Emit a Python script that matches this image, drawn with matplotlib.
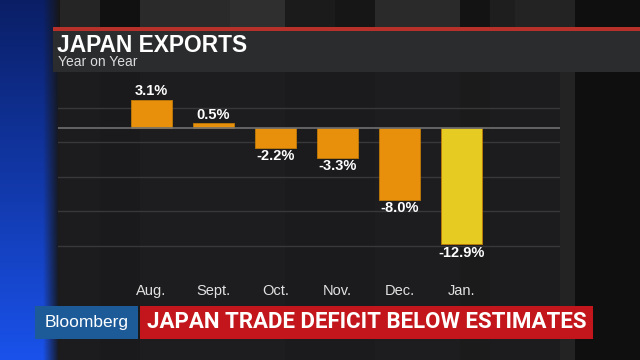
import numpy as np
import matplotlib
matplotlib.use("Agg")
import matplotlib.pyplot as plt
from matplotlib.patches import Rectangle

# data
months = ["Aug.", "Sept.", "Oct.", "Nov.", "Dec.", "Jan."]
exports_yoy = [3.1, 0.5, -2.2, -3.3, -8.0, -12.9]
value_labels = ["3.1%", "0.5%", "-2.2%", "-3.3%", "-8.0%", "-12.9%"]
title = "JAPAN EXPORTS"
subtitle = "Year on Year"
headline = "JAPAN TRADE DEFICIT BELOW ESTIMATES"

plt.rcParams['font.family'] = ['Liberation Sans', 'DejaVu Sans']

W, H = 640, 360
fig = plt.figure(figsize=(6.4, 3.6), dpi=100)
fig.patch.set_facecolor("#151515")

# background layer in pixel coords
bg = fig.add_axes([0, 0, 1, 1])
bg.set_xlim(0, W)
bg.set_ylim(H, 0)
bg.axis("off")

# studio stripes
stripes = [(53, 100, "#252525"), (100, 140, "#111111"), (140, 230, "#2a2a2a"),
           (230, 285, "#2f2f2f"), (285, 335, "#1b1b1b"), (335, 375, "#161616"),
           (375, 460, "#2a2a2a"), (460, 490, "#131313"), (490, 515, "#1e1e1e"),
           (515, 575, "#232323"), (575, 640, "#0f0f0f")]
for x0, x1, c in stripes:
    bg.add_patch(Rectangle((x0, 0), x1 - x0, H, color=c, lw=0, zorder=0))

# blue wall on the left
yy = np.linspace(0, 1, 100)[:, None]
xx = np.linspace(0, 1, 60)[None, :]
top = np.array([0.04, 0.12, 0.40])
bot = np.array([0.10, 0.32, 0.92])
rgb = top + (bot - top) * yy[..., None]
fade = np.clip((xx - 0.72) / 0.28, 0, 1)[..., None]
rgb = rgb * (1 - fade) + np.array([0.09, 0.09, 0.09]) * fade
bg.imshow(rgb, extent=(0, 60, H, 0), aspect="auto", zorder=1)

# chart panel
bg.add_patch(Rectangle((58, 72), 502, H - 72, color="#1c1c1e", alpha=0.9, lw=0, zorder=2))

# header
bg.add_patch(Rectangle((53, 28), W - 53, 44, color="#2a2c2e", lw=0, zorder=3))
bg.add_patch(Rectangle((53, 27), W - 53, 3.5, color="#b8302a", lw=0, zorder=4))
bg.text(57, 45, title, color="white", fontsize=16.4, fontweight="bold",
        va="center", ha="left", zorder=5)
bg.text(57.5, 62.5, subtitle, color="#dcdcdc", fontsize=10,
        va="center", ha="left", zorder=5)

# bottom banner
bg.add_patch(Rectangle((35, 305.5), 103, 33.5, color="#1d5a98", lw=0, zorder=6))
bg.text(86.5, 322.5, "Bloomberg", color="white", fontsize=12.5,
        va="center", ha="center", zorder=7)
bg.add_patch(Rectangle((140, 305.5), 453, 33.5, color="#c2161c", lw=0, zorder=6))
bg.text(367, 322.5, headline, color="white", fontsize=16,
        family=["Roboto", "DejaVu Sans"], fontweight="bold",
        va="center", ha="center", zorder=7)

# bar chart
ax = fig.add_axes([58 / W, (H - 300) / H, 502 / W, 228 / H])
ax.set_facecolor("none")
ax.set_xlim(-1.508, 6.589)
ax.set_ylim(-19.04, 6.15)
for g in [2.14, -1.61, -5.41, -9.2, -13.04]:
    ax.axhline(g, color="#38383a", lw=1.0, zorder=1)
ax.axhline(0, color="#707070", lw=1.2, zorder=3)

x = np.arange(len(months))
colors = ["#e8900c"] * 5 + ["#e6cc22"]
ax.bar(x, exports_yoy, width=0.67, color=colors, edgecolor="#c07a08", lw=0.6, zorder=2)

for xi, v, lab in zip(x, exports_yoy, value_labels):
    off = 6 if v > 0 else -6
    ax.annotate(lab, (xi, v), xytext=(0, off), textcoords="offset points",
                ha="center", va="center", color="white", fontsize=10.5,
                fontweight="bold", zorder=4)

for xi, m in zip(x, months):
    ax.text(xi, -18.0, m, color="#e2e2e2", fontsize=10.5, ha="center", va="center")

ax.set_xticks([])
ax.set_yticks([])
for s in ax.spines.values():
    s.set_visible(False)

fig.savefig("out.png", dpi=100, facecolor=fig.get_facecolor())
